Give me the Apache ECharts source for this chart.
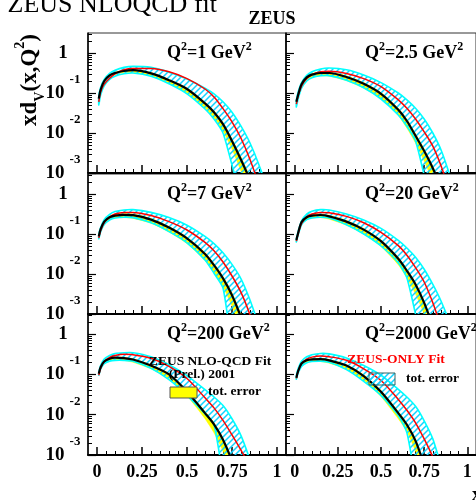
<!DOCTYPE html>
<html>
<head>
<meta charset="utf-8">
<script src="https://cdn.jsdelivr.net/npm/echarts@6/dist/echarts.min.js"></script>
<style>
  html, body { margin: 0; padding: 0; background: #fff; }
  #chart { width: 476px; height: 502px; }
</style>
</head>
<body>
<div id="chart"></div>
<script>
// x points shared by every curve
var xGrid = [0.01, 0.02, 0.04, 0.07, 0.1, 0.15, 0.2, 0.3, 0.4, 0.5, 0.6, 0.65, 0.7, 0.75, 0.8, 0.85, 0.9, 0.95];

// log10(xd_v), one row per panel (Q2 = 1, 2.5, 7, 20, 200, 2000)
var blackFit = [
  [-1.14,-0.92,-0.70,-0.56,-0.50,-0.45,-0.43,-0.51,-0.68,-0.90,-1.26,-1.48,-1.78,-2.20,-2.67,-3.18,-3.8,-4.5],
  [-1.22,-1.05,-0.78,-0.61,-0.54,-0.50,-0.50,-0.60,-0.77,-1.02,-1.42,-1.70,-2.07,-2.45,-2.88,-3.4,-4.0,-4.7],
  [-1.06,-0.88,-0.69,-0.58,-0.54,-0.52,-0.53,-0.64,-0.84,-1.11,-1.50,-1.78,-2.11,-2.53,-3.08,-3.7,-4.4,-5.1],
  [-1.15,-0.98,-0.70,-0.58,-0.54,-0.525,-0.56,-0.69,-0.89,-1.18,-1.62,-1.92,-2.26,-2.72,-3.3,-3.9,-4.6,-5.3],
  [-0.98,-0.82,-0.68,-0.61,-0.585,-0.595,-0.63,-0.78,-1.0,-1.43,-1.96,-2.24,-2.62,-3.15,-3.8,-4.5,-5.2,-6.0],
  [-1.08,-0.92,-0.73,-0.65,-0.625,-0.62,-0.65,-0.78,-1.04,-1.43,-1.96,-2.25,-2.65,-3.25,-3.9,-4.6,-5.3,-6.0]
];
var redFit = [
  [-1.22,-0.98,-0.78,-0.63,-0.52,-0.42,-0.385,-0.39,-0.47,-0.64,-0.90,-1.10,-1.39,-1.72,-2.13,-2.66,-3.3,-4.0],
  [-1.28,-1.08,-0.83,-0.64,-0.54,-0.47,-0.455,-0.51,-0.64,-0.84,-1.17,-1.38,-1.65,-1.97,-2.33,-2.85,-3.5,-4.2],
  [-1.10,-0.92,-0.72,-0.58,-0.50,-0.46,-0.46,-0.54,-0.69,-0.90,-1.21,-1.42,-1.70,-2.05,-2.46,-3.02,-3.7,-4.4],
  [-1.18,-1.0,-0.74,-0.57,-0.50,-0.46,-0.47,-0.56,-0.72,-0.96,-1.29,-1.53,-1.84,-2.2,-2.72,-3.35,-4.0,-4.7],
  [-1.02,-0.85,-0.68,-0.58,-0.53,-0.50,-0.51,-0.60,-0.80,-1.10,-1.58,-1.83,-2.14,-2.5,-2.88,-3.3,-3.9,-4.6],
  [-1.10,-0.93,-0.73,-0.62,-0.57,-0.54,-0.56,-0.65,-0.86,-1.15,-1.62,-1.89,-2.2,-2.6,-3.05,-3.6,-4.3,-5.0]
];
var cyanHigh = [
  [-1.08,-0.86,-0.66,-0.51,-0.43,-0.36,-0.335,-0.36,-0.48,-0.65,-0.88,-1.02,-1.22,-1.48,-1.83,-2.25,-2.8,-3.5],
  [-1.18,-0.98,-0.74,-0.56,-0.47,-0.40,-0.375,-0.42,-0.55,-0.74,-1.0,-1.17,-1.38,-1.65,-2.0,-2.45,-3.08,-3.8],
  [-1.02,-0.84,-0.64,-0.51,-0.44,-0.40,-0.39,-0.46,-0.59,-0.78,-1.06,-1.24,-1.47,-1.76,-2.12,-2.65,-3.3,-4.0],
  [-1.12,-0.94,-0.67,-0.50,-0.43,-0.39,-0.40,-0.50,-0.65,-0.86,-1.16,-1.35,-1.58,-1.88,-2.26,-2.7,-3.25,-3.9],
  [-0.95,-0.78,-0.62,-0.53,-0.48,-0.46,-0.46,-0.56,-0.76,-1.03,-1.38,-1.56,-1.77,-2.1,-2.52,-3.12,-3.8,-4.5],
  [-1.03,-0.86,-0.67,-0.56,-0.51,-0.48,-0.49,-0.59,-0.78,-1.02,-1.37,-1.56,-1.79,-2.15,-2.6,-3.3,-4.0,-4.7]
];
var cyanLow = [
  [-1.30,-1.05,-0.82,-0.66,-0.58,-0.52,-0.50,-0.58,-0.77,-1.02,-1.40,-1.65,-2.0,-2.8,-3.6,-4.4,-5.2,-6.0],
  [-1.35,-1.15,-0.88,-0.70,-0.62,-0.57,-0.565,-0.68,-0.87,-1.15,-1.55,-1.83,-2.2,-3.05,-3.8,-4.6,-5.4,-6.2],
  [-1.12,-0.95,-0.76,-0.65,-0.60,-0.58,-0.59,-0.72,-0.94,-1.22,-1.65,-1.98,-2.35,-3.8,-4.6,-5.4,-6.2,-7.0],
  [-1.20,-1.03,-0.77,-0.64,-0.60,-0.58,-0.60,-0.77,-1.0,-1.30,-1.72,-2.1,-3.0,-3.8,-4.6,-5.4,-6.2,-7.0],
  [-1.02,-0.87,-0.73,-0.67,-0.65,-0.65,-0.67,-0.85,-1.13,-1.52,-1.98,-2.25,-3.5,-4.3,-5.0,-5.7,-6.4,-7.1],
  [-1.12,-0.97,-0.80,-0.71,-0.68,-0.67,-0.70,-0.88,-1.17,-1.52,-2.02,-2.45,-3.6,-4.4,-5.1,-5.8,-6.5,-7.2]
];
var yellowHigh = [
  [-1.12,-0.90,-0.68,-0.54,-0.48,-0.43,-0.41,-0.49,-0.66,-0.88,-1.23,-1.45,-1.74,-2.15,-2.6,-3.1,-3.7,-4.4],
  [-1.19,-1.02,-0.75,-0.58,-0.51,-0.47,-0.47,-0.57,-0.74,-0.99,-1.38,-1.66,-2.02,-2.4,-2.83,-3.35,-3.95,-4.65],
  [-1.03,-0.85,-0.66,-0.55,-0.51,-0.49,-0.50,-0.61,-0.81,-1.08,-1.46,-1.74,-2.06,-2.47,-3.0,-3.6,-4.3,-5.0],
  [-1.12,-0.95,-0.67,-0.55,-0.51,-0.50,-0.53,-0.66,-0.86,-1.15,-1.58,-1.88,-2.22,-2.68,-3.25,-3.85,-4.5,-5.2],
  [-0.96,-0.80,-0.66,-0.59,-0.565,-0.575,-0.61,-0.76,-0.98,-1.40,-1.92,-2.2,-2.58,-3.1,-3.75,-4.4,-5.1,-5.9],
  [-1.06,-0.90,-0.71,-0.63,-0.605,-0.60,-0.63,-0.76,-1.01,-1.40,-1.92,-2.21,-2.6,-3.2,-3.85,-4.5,-5.2,-5.9]
];
var yellowLow = [
  [-1.17,-0.95,-0.74,-0.60,-0.54,-0.49,-0.48,-0.57,-0.76,-1.0,-1.38,-1.62,-1.95,-2.4,-2.95,-3.5,-4.2,-5.0],
  [-1.26,-1.09,-0.83,-0.67,-0.60,-0.57,-0.58,-0.69,-0.88,-1.14,-1.56,-1.88,-2.25,-2.7,-3.2,-3.8,-4.5,-5.2],
  [-1.10,-0.92,-0.74,-0.63,-0.60,-0.59,-0.61,-0.73,-0.95,-1.24,-1.66,-1.97,-2.32,-2.8,-3.4,-4.0,-4.7,-5.4],
  [-1.19,-1.02,-0.76,-0.64,-0.60,-0.59,-0.63,-0.78,-1.0,-1.31,-1.77,-2.1,-2.5,-3.0,-3.6,-4.2,-4.9,-5.6],
  [-1.0,-0.85,-0.72,-0.66,-0.64,-0.65,-0.70,-0.86,-1.1,-1.53,-2.1,-2.45,-2.9,-3.4,-4.0,-4.7,-5.4,-6.1],
  [-1.11,-0.95,-0.77,-0.70,-0.68,-0.68,-0.72,-0.87,-1.14,-1.55,-2.1,-2.42,-2.9,-3.5,-4.2,-4.9,-5.6,-6.3]
];

var q2Values = ['1', '2.5', '7', '20', '200', '2000'];
var xTicks = [0, 0.25, 0.5, 0.75, 1];
var xMinorTicks = [0.05, 0.1, 0.15, 0.2, 0.3, 0.35, 0.4, 0.45, 0.55, 0.6, 0.65, 0.7, 0.8, 0.85, 0.9, 0.95];
var yTicks = [-3, -2, -1, 0];          // decades on the log scale
var yTickExp = ['-3', '-2', '-1', ''];  // printed as 10^exp, '' means "1"

// minor ticks at 2..9 of each decade
var yMinorTicks = [];
yTicks.forEach(function (d) {
  for (var k = 2; k <= 9; k++) {
    var v = d + Math.log10(k);
    if (v < 0.5) yMinorTicks.push(v);
  }
});

var SERIF = '"Liberation Serif", "Times New Roman", serif';
var cells = [
  { left: 88, top: 33, height: 140 }, { left: 286, top: 33, height: 140 },
  { left: 88, top: 174, height: 140 }, { left: 286, top: 174, height: 140 },
  { left: 88, top: 314, height: 141 }, { left: 286, top: 314, height: 141 }
];

// cyan hatch
var hatch = document.createElement('canvas');
hatch.width = 6; hatch.height = 6;
var hc = hatch.getContext('2d');
hc.strokeStyle = '#12d2ff';
hc.lineWidth = 1.5;
hc.beginPath();
hc.moveTo(0, 6); hc.lineTo(6, 0);
hc.moveTo(-1, 1); hc.lineTo(1, -1);
hc.moveTo(5, 7); hc.lineTo(7, 5);
hc.stroke();
var hatchFill = { image: hatch, repeat: 'repeat' };

function bandItem(fill, stroke, lw) {
  return function (params, api) {
    if (params.dataIndex !== 0) return null;
    var n = xGrid.length, pts = [], k;
    for (k = 0; k < n; k++) pts.push(api.coord([api.value(0, k), api.value(2, k)]));
    for (k = n - 1; k >= 0; k--) pts.push(api.coord([api.value(0, k), api.value(1, k)]));
    return {
      type: 'polygon',
      shape: { points: pts, smooth: 0.2 },
      style: { fill: fill, stroke: stroke, lineWidth: lw }
    };
  };
}

var grids = [], xAxes = [], yAxes = [], series = [], graphics = [];

cells.forEach(function (c, i) {
  var col = i % 2, row = Math.floor(i / 2);
  grids.push({
    left: c.left, top: c.top, width: 198, height: c.height,
    show: true, borderColor: '#333', borderWidth: 1
  });
  xAxes.push({
    gridIndex: i, type: 'value', min: -0.05, max: 1.05, position: 'bottom',
    axisLine: { show: true, onZero: false, lineStyle: { color: '#000', width: 2 } },
    axisTick: { show: true, inside: true, length: 8, customValues: xTicks, lineStyle: { color: '#000', width: 1.5 } },
    axisLabel: {
      show: row === 2, customValues: xTicks, margin: 8,
      fontFamily: SERIF, fontWeight: 'bold', fontSize: 18, color: '#000',
      formatter: function (v) { return String(v); }
    },
    splitLine: { show: false }
  });
  xAxes.push({
    gridIndex: i, type: 'value', min: -0.05, max: 1.05, position: 'bottom',
    axisLine: { show: false, onZero: false },
    axisTick: { show: true, inside: true, length: 4, customValues: xMinorTicks, lineStyle: { color: '#000', width: 1 } },
    axisLabel: { show: false },
    splitLine: { show: false }
  });
  yAxes.push({
    gridIndex: i, type: 'value', min: -3, max: 0.5, position: 'left',
    axisLine: { show: true, onZero: false, lineStyle: { color: '#000', width: 1.5 } },
    axisTick: { show: true, inside: true, length: 8, customValues: yTicks, lineStyle: { color: '#000', width: 1.2 } },
    axisLabel: {
      show: col === 0, customValues: yTicks, align: 'center', margin: 25,
      formatter: function (v) {
        var e = yTickExp[yTicks.indexOf(v)];
        return e ? '{b|10}{s|' + e + '}' : '{b|1}';
      },
      rich: {
        b: { fontFamily: SERIF, fontWeight: 'bold', fontSize: 19, lineHeight: 40, color: '#000' },
        s: { fontFamily: SERIF, fontWeight: 'bold', fontSize: 13, lineHeight: 13, verticalAlign: 'top', padding: [0, 0, 0, 5], color: '#000' }
      }
    },
    splitLine: { show: false }
  });
  yAxes.push({
    gridIndex: i, type: 'value', min: -3, max: 0.5, position: 'left',
    axisLine: { show: false, onZero: false },
    axisTick: { show: true, inside: true, length: 4, customValues: yMinorTicks, lineStyle: { color: '#000', width: 1 } },
    axisLabel: { show: false },
    splitLine: { show: false }
  });

  var xi = i * 2, yi = i * 2;
  series.push({
    type: 'custom', xAxisIndex: xi, yAxisIndex: yi, clip: true, silent: true,
    renderItem: bandItem('#ffff00', '#ffff00', 0.5),
    data: xGrid.map(function (x, k) { return [x, yellowLow[i][k], yellowHigh[i][k]]; }),
    z: 1
  });
  series.push({
    type: 'custom', xAxisIndex: xi, yAxisIndex: yi, clip: true, silent: true,
    renderItem: bandItem(hatchFill, '#00ffff', 1.6),
    data: xGrid.map(function (x, k) { return [x, cyanLow[i][k], cyanHigh[i][k]]; }),
    z: 2
  });
  series.push({
    type: 'line', xAxisIndex: xi, yAxisIndex: yi, showSymbol: false, smooth: 0.3, clip: true, silent: true,
    lineStyle: { color: '#ff0000', width: 1.5 },
    data: xGrid.map(function (x, k) { return [x, redFit[i][k]]; }),
    z: 3
  });
  series.push({
    type: 'line', xAxisIndex: xi, yAxisIndex: yi, showSymbol: false, smooth: 0.3, clip: true, silent: true,
    lineStyle: { color: '#000', width: 2.2 },
    data: xGrid.map(function (x, k) { return [x, blackFit[i][k]]; }),
    z: 4
  });

  graphics.push({
    type: 'text', left: c.left + 79, top: c.top + 8, z: 100,
    style: {
      text: '{b|Q}{s|2}{b|=' + q2Values[i] + ' GeV}{s|2}',
      rich: {
        b: { fontFamily: SERIF, fontWeight: 'bold', fontSize: 18, lineHeight: 24, fill: '#000' },
        s: { fontFamily: SERIF, fontWeight: 'bold', fontSize: 12, lineHeight: 12, verticalAlign: 'top', fill: '#000' }
      }
    }
  });
});

graphics.push(
  {
    type: 'text', x: 217, y: 5.5, z: 100,
    style: { text: 'ZEUS NLOQCD fit', fontFamily: SERIF, fontSize: 26, fill: '#000', align: 'right', verticalAlign: 'middle' }
  },
  {
    type: 'text', x: 272, y: 19, z: 100,
    style: { text: 'ZEUS', fontFamily: SERIF, fontWeight: 'bold', fontSize: 18, fill: '#000', align: 'center', verticalAlign: 'middle' }
  },
  {
    type: 'text', x: 30, y: 80, rotation: Math.PI / 2, z: 100,
    style: {
      text: '{m|xd}{d|V}{m|(x,Q}{u|2}{m|)}', align: 'center', verticalAlign: 'middle',
      rich: {
        m: { fontFamily: SERIF, fontWeight: 'bold', fontSize: 23, lineHeight: 34, fill: '#000' },
        d: { fontFamily: SERIF, fontWeight: 'bold', fontSize: 14, lineHeight: 14, verticalAlign: 'bottom', fill: '#000' },
        u: { fontFamily: SERIF, fontWeight: 'bold', fontSize: 14, lineHeight: 14, verticalAlign: 'top', fill: '#000' }
      }
    }
  },
  {
    type: 'text', x: 210, y: 362, z: 100,
    style: { text: 'ZEUS NLO-QCD Fit', fontFamily: SERIF, fontWeight: 'bold', fontSize: 13.5, fill: '#000', align: 'center', verticalAlign: 'middle' }
  },
  {
    type: 'text', x: 202, y: 375, z: 100,
    style: { text: '(Prel.) 2001', fontFamily: SERIF, fontWeight: 'bold', fontSize: 13.5, fill: '#000', align: 'center', verticalAlign: 'middle' }
  },
  {
    type: 'rect', shape: { x: 170, y: 387, width: 27, height: 11 }, z: 100,
    style: { fill: '#ffff00', stroke: '#555', lineWidth: 1 }
  },
  {
    type: 'text', x: 208, y: 392, z: 100,
    style: { text: 'tot. error', fontFamily: SERIF, fontWeight: 'bold', fontSize: 13.5, fill: '#000', align: 'left', verticalAlign: 'middle' }
  },
  {
    type: 'text', x: 396, y: 360, z: 100,
    style: { text: 'ZEUS-ONLY Fit', fontFamily: SERIF, fontWeight: 'bold', fontSize: 13.5, fill: '#ff0000', align: 'center', verticalAlign: 'middle' }
  },
  {
    type: 'rect', shape: { x: 369, y: 373, width: 26, height: 12 }, z: 100,
    style: { fill: hatchFill, stroke: '#336666', lineWidth: 1 }
  },
  {
    type: 'text', x: 406, y: 379, z: 100,
    style: { text: 'tot. error', fontFamily: SERIF, fontWeight: 'bold', fontSize: 13.5, fill: '#000', align: 'left', verticalAlign: 'middle' }
  },
  {
    type: 'text', x: 472, y: 495, z: 100,
    style: { text: 'x', fontFamily: SERIF, fontWeight: 'bold', fontSize: 18, fill: '#000', align: 'left', verticalAlign: 'middle' }
  }
);

var chart = echarts.init(document.getElementById('chart'));
chart.setOption({
  animation: false,
  backgroundColor: '#fff',
  grid: grids,
  xAxis: xAxes,
  yAxis: yAxes,
  series: series,
  graphic: graphics
});
</script>
</body>
</html>
